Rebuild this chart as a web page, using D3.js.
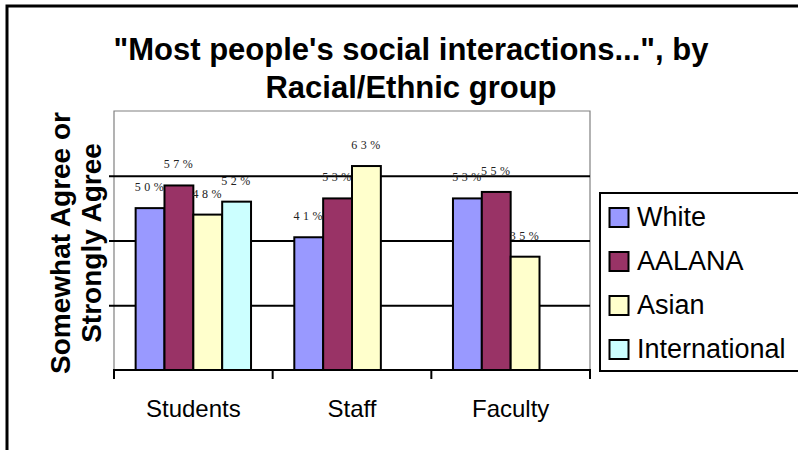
<!DOCTYPE html>
<html>
<head>
<meta charset="utf-8">
<script src="https://cdn.jsdelivr.net/npm/d3@7/dist/d3.min.js"></script>
<style>
  body { margin: 0; background: #fff; }
  svg { display: block; }
</style>
</head>
<body>
<svg id="chart" width="798" height="450"></svg>
<script>
// Share who somewhat / strongly agree, by campus role and racial/ethnic group
const categories = ["Students", "Staff", "Faculty"];
const seriesNames = ["White", "AALANA", "Asian", "International"];
const seriesColors = ["#9999FF", "#993366", "#FFFFCC", "#CCFFFF"];
const white = [50, 41, 53];
const aalana = [57, 53, 55];
const asian = [48, 63, 35];
const international = [52, null, null];
const yTicks = [0, 20, 40, 60, 80];
const titleLines = ["\"Most people's social interactions...\", by", "Racial/Ethnic group"];
const yTitleLines = ["Somewhat Agree or", "Strongly Agree"];

const seriesValues = [white, aalana, asian, international];

const svg = d3.select("#chart");
const W = 798, H = 450;
const plot = { left: 114, right: 590, top: 111, bottom: 370 };

// Outer chart frame (left and top edges visible)
svg.append("path")
  .attr("d", `M7,${H} L7,6 L${W},6`)
  .attr("fill", "none").attr("stroke", "#000").attr("stroke-width", 3);

// Title
svg.append("g").selectAll("text").data(titleLines).join("text")
  .attr("x", 411)
  .attr("y", (d, i) => 60 + i * 38)
  .attr("text-anchor", "middle")
  .attr("font-family", "Liberation Sans, Arial, sans-serif")
  .attr("font-weight", "bold")
  .attr("font-size", 31)
  .attr("fill", "#000")
  .text(d => d);

// Scales
const x = d3.scaleBand().domain(categories).range([plot.left, plot.right]).paddingInner(0).paddingOuter(0);
const xs = d3.scaleBand().domain(seriesNames).range([0, x.bandwidth()]).paddingInner(0).paddingOuter(0.75);
const y = d3.scaleLinear().domain([0, 80]).range([plot.bottom, plot.top]);

// Plot area border (grey)
svg.append("path")
  .attr("d", `M${plot.left},${plot.bottom} L${plot.left},${plot.top} L${plot.right},${plot.top} L${plot.right},${plot.bottom}`)
  .attr("fill", "none").attr("stroke", "#808080").attr("stroke-width", 1.2);

// Horizontal gridlines with short outward ticks
const grid = svg.append("g")
  .attr("transform", `translate(${plot.left},0)`)
  .call(d3.axisLeft(y).tickValues(yTicks.filter(v => v > 0 && v < 80))
    .tickSize(-(plot.right - plot.left)).tickSizeOuter(0).tickFormat(""));
grid.select(".domain").remove();
grid.selectAll(".tick line").attr("stroke", "#000").attr("stroke-width", 2).attr("x1", -5);

// Bars
const groups = svg.append("g").selectAll("g").data(categories).join("g")
  .attr("transform", c => `translate(${x(c)},0)`);

const barData = (c, ci) => seriesNames.map((s, si) => ({ s, si, v: seriesValues[si][ci] }))
  .filter(d => d.v != null);

groups.each(function (c, ci) {
  const g = d3.select(this);
  const bars = barData(c, ci);
  g.selectAll("rect").data(bars).join("rect")
    .attr("x", d => xs(d.s))
    .attr("y", d => y(d.v))
    .attr("width", xs.bandwidth())
    .attr("height", d => y(0) - y(d.v))
    .attr("fill", d => seriesColors[d.si])
    .attr("stroke", "#000").attr("stroke-width", 2);
  g.selectAll("text").data(bars).join("text")
    .attr("x", d => xs(d.s) + xs.bandwidth() / 2 + 1)
    .attr("y", d => y(d.v) - 17)
    .attr("text-anchor", "middle")
    .attr("font-family", "Liberation Serif, Times New Roman, serif")
    .attr("font-size", 12)
    .attr("letter-spacing", 3.5)
    .attr("fill", "#222")
    .text(d => `${d.v}%`);
});

// Category axis
const xAxis = svg.append("g")
  .attr("transform", `translate(0,${plot.bottom})`)
  .call(d3.axisBottom(x).tickSize(0).tickPadding(30));
xAxis.select(".domain").remove();
xAxis.selectAll("text")
  .attr("font-family", "Liberation Sans, Arial, sans-serif")
  .attr("font-size", 24)
  .attr("fill", "#000");
svg.append("line")
  .attr("x1", plot.left - 1).attr("x2", plot.right + 1)
  .attr("y1", plot.bottom).attr("y2", plot.bottom)
  .attr("stroke", "#000").attr("stroke-width", 2);
const boundaries = categories.map(c => x(c)).concat([x(categories[categories.length - 1]) + x.bandwidth()]);
svg.append("g").selectAll("line").data(boundaries).join("line")
  .attr("x1", d => d).attr("x2", d => d)
  .attr("y1", plot.bottom).attr("y2", plot.bottom + 9)
  .attr("stroke", "#000").attr("stroke-width", 2);

// Y-axis title
svg.append("g").selectAll("text").data(yTitleLines).join("text")
  .attr("transform", (d, i) => `translate(${70 + i * 31},${243}) rotate(-90)`)
  .attr("text-anchor", "middle")
  .attr("font-family", "Liberation Sans, Arial, sans-serif")
  .attr("font-weight", "bold")
  .attr("font-size", 28)
  .attr("fill", "#000")
  .text(d => d);

// Legend
svg.append("rect")
  .attr("x", 600).attr("y", 193).attr("width", 210).attr("height", 178)
  .attr("fill", "#fff").attr("stroke", "#000").attr("stroke-width", 2);
const legendItems = svg.append("g").selectAll("g").data(seriesNames).join("g")
  .attr("transform", (d, i) => `translate(609,${226 + i * 44})`);
legendItems.append("rect")
  .attr("x", 0.5).attr("y", -18).attr("width", 19).attr("height", 19)
  .attr("fill", (d, i) => seriesColors[i])
  .attr("stroke", "#000").attr("stroke-width", 2);
legendItems.append("text")
  .attr("x", 28).attr("y", 0)
  .attr("font-family", "Liberation Sans, Arial, sans-serif")
  .attr("font-size", 27)
  .attr("fill", "#000")
  .text(d => d);
</script>
</body>
</html>
